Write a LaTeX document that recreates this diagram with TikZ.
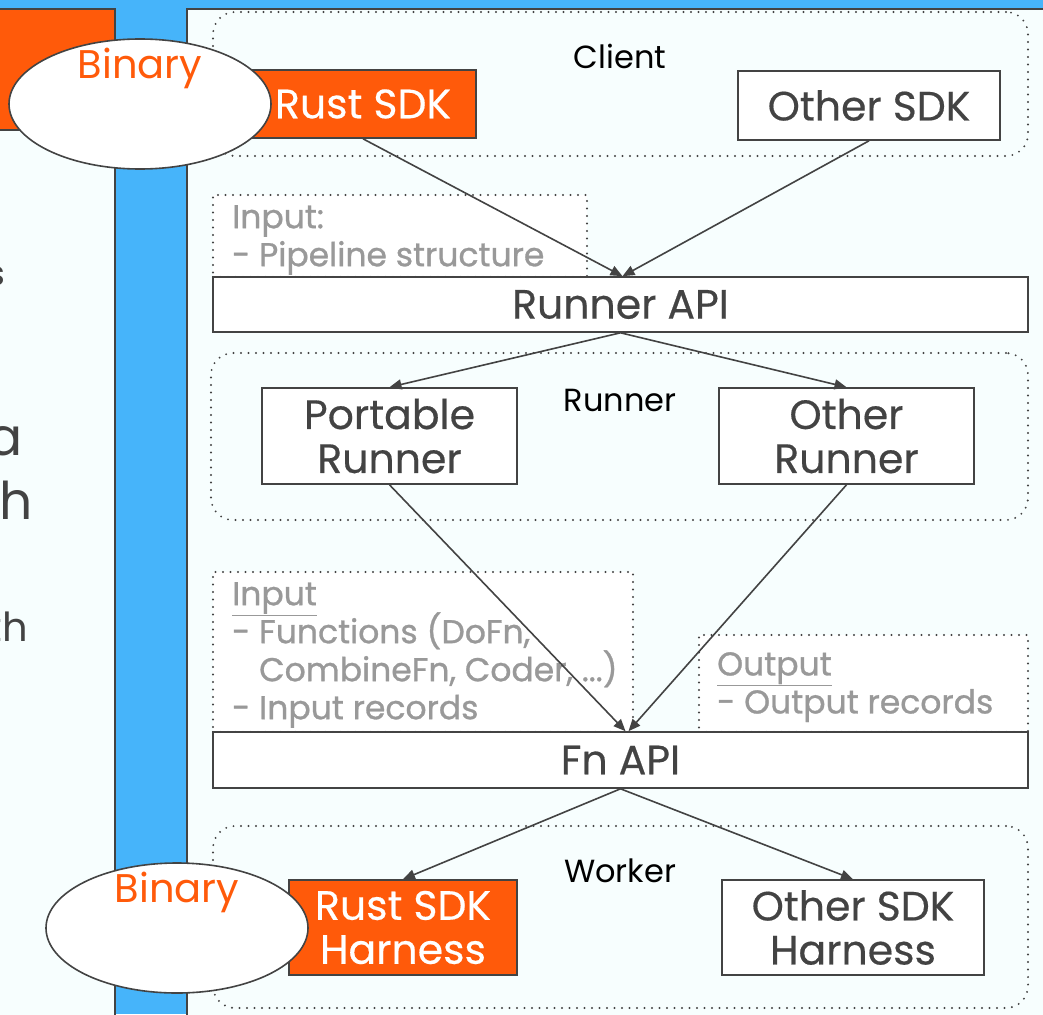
\documentclass[tikz,border=0pt]{standalone}
\usepackage{fontspec}
\setmainfont{Poppins}
\newfontfamily\labelfont[FakeBold=0.4]{Poppins}
\newfontfamily\notefont[FakeBold=0.9]{Poppins}
\usetikzlibrary{arrows.meta,shapes.geometric}
\definecolor{bgblue}{HTML}{46B4FA}
\definecolor{panel}{HTML}{F7FEFE}
\definecolor{ink}{HTML}{434343}
\definecolor{rustorange}{HTML}{FF5A0A}
\definecolor{note}{HTML}{999999}
% underlined heading whose rule does not push the next line down
\newcommand\noteheading[1]{\raisebox{0pt}[\height][0pt]{\underline{#1}}}

\begin{document}
\begin{tikzpicture}[x=1pt,y=-1pt,
  box/.style={draw=ink, line width=1.6pt, fill=white, inner sep=0pt, align=center,
    text=ink, font=\labelfont\fontsize{41}{44}\selectfont},
  rustbox/.style={box, fill=rustorange, text=white},
  group/.style={draw=ink, line width=2.1pt, dash pattern=on 0pt off 7.5pt, line cap=round,
    rounded corners=22pt, inner sep=0pt},
  notebox/.style={draw=ink, line width=2.1pt, dash pattern=on 0pt off 7.5pt, line cap=round,
    fill=white, inner sep=0pt},
  grouplabel/.style={font=\fontsize{32}{36}\selectfont, text=black, inner sep=0pt},
  notetext/.style={font=\notefont\fontsize{33}{38}\selectfont, text=note, align=left,
    inner sep=0pt, anchor=north west},
  flow/.style={draw=ink, line width=1.6pt, -{Triangle[length=12pt,width=10pt]}},
  binary/.style={ellipse, draw=ink, line width=1.6pt, fill=white,
    minimum width=262pt, minimum height=130pt, inner sep=0pt},
  binarytext/.style={font=\fontsize{40}{42}\selectfont, text=rustorange, inner sep=0pt},
  slidetext/.style={text=ink, inner sep=0pt, anchor=base east},
]
\useasboundingbox (0,0) rectangle (1043,1014);

% slide backdrop: blue frame, left panel with its orange header, right panel
\fill[bgblue] (0,0) rectangle (1043,1014);
\draw[ink, line width=1.6pt, fill=panel] (-10,9) rectangle (115,1030);
\draw[ink, line width=1.6pt, fill=rustorange] (-10,9) rectangle (115,130);
\draw[ink, line width=1.6pt, fill=panel] (187,9) rectangle (1060,1030);

% text of the left panel, running off its left edge
\node[slidetext, font=\fontsize{34}{38}\selectfont] (ltxtA) at (5,285) {s};
\node[slidetext, font=\fontsize{52}{56}\selectfont] (ltxtB) at (23,455) {a};
\node[slidetext, font=\fontsize{52}{56}\selectfont] (ltxtC) at (33,519) {th};
\node[slidetext, font=\fontsize{40}{44}\selectfont] (ltxtD) at (28,641) {th};

% dotted groups
\node[group, minimum width=815pt, minimum height=144pt] (clientgrp) at (620.5,84) {};
\node[group, minimum width=817pt, minimum height=167pt] (runnergrp) at (619.5,436.5) {};
\node[group, minimum width=815pt, minimum height=182pt] (workergrp) at (620.5,917) {};
\node[grouplabel] (clientlbl) at (620,56) {Client};
\node[grouplabel] (runnerlbl) at (620,400) {Runner};
\node[grouplabel] (workerlbl) at (620,871) {Worker};

% notes on what each API carries
\node[notebox, minimum width=374pt, minimum height=82pt] (pipeinput) at (400,236) {};
\node[notetext] (pipeinputtxt) at (232,205) {Input:\\- Pipeline structure};
\node[notebox, minimum width=420pt, minimum height=160pt] (fninput) at (423,652) {};
\node[notetext] (fninputtxt) at (232,582)
  {\noteheading{Input}\\- Functions (DoFn,\\\phantom{- }CombineFn, Coder, ...)\\- Input records};
\node[notebox, minimum width=329pt, minimum height=97pt] (fnoutput) at (863.5,683.5) {};
\node[notetext] (fnoutputtxt) at (717,652) {\noteheading{Output}\\- Output records};

% components
\node[rustbox, minimum width=226pt, minimum height=68pt] (rustsdk) at (363,104) {Rust SDK};
\node[box, minimum width=262pt, minimum height=69pt] (othersdk) at (869,105.5) {Other SDK};
\node[box, minimum width=815pt, minimum height=55pt] (runnerapi) at (620.5,304.5) {Runner API};
\node[box, minimum width=255pt, minimum height=96pt] (portable) at (389.5,436) {Portable\\Runner};
\node[box, minimum width=255pt, minimum height=96pt] (otherrunner) at (846.5,436) {Other\\Runner};
\node[box, minimum width=815pt, minimum height=56pt] (fnapi) at (620.5,760) {Fn API};
\node[rustbox, minimum width=228pt, minimum height=95pt] (rustharness) at (403,927.5) {Rust SDK\\Harness};
\node[box, minimum width=262pt, minimum height=95pt] (otherharness) at (853,927.5) {Other SDK\\Harness};

% flow between the layers
\draw[flow] (rustsdk.south) -- ([xshift=2pt]runnerapi.north);
\draw[flow] (othersdk.south) -- ([xshift=2pt]runnerapi.north);
\draw[flow] (runnerapi.south) -- (portable.north);
\draw[flow] (runnerapi.south) -- (otherrunner.north);
\draw[flow] (portable.south) -- ([xshift=5pt]fnapi.north);
\draw[flow] (otherrunner.south) -- ([xshift=8pt]fnapi.north);
\draw[flow] (fnapi.south) -- (rustharness.north);
\draw[flow] (fnapi.south) -- (otherharness.north);

% binary callouts
\node[binary] (bintop) at (140,104) {};
\node[binarytext] (bintoptxt) at (140,68) {Binary};
\node[binary] (binbottom) at (177,928) {};
\node[binarytext] (binbottomtxt) at (177,892) {Binary};
\end{tikzpicture}
\end{document}
